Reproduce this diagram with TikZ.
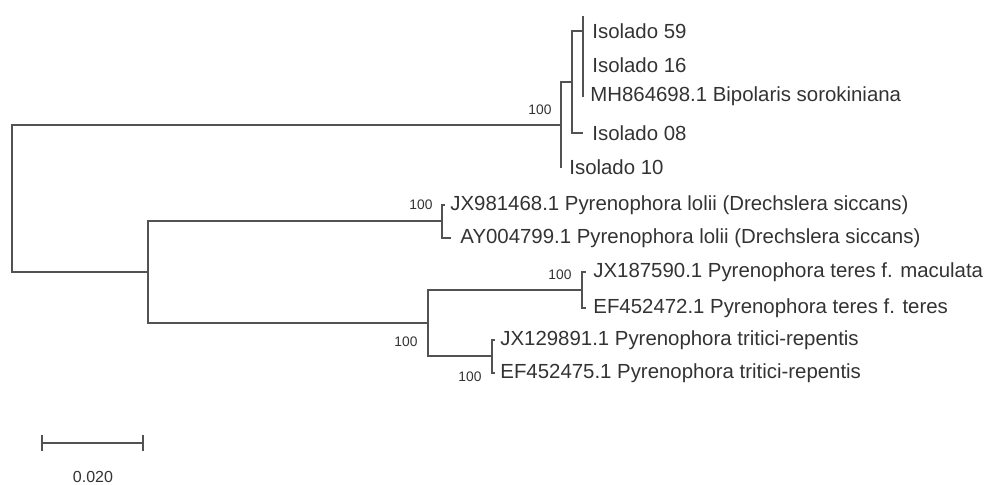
\documentclass[tikz,border=0pt]{standalone}
\usepackage{fontspec}
\setmainfont{Liberation Sans}
\usetikzlibrary{positioning}

\begin{document}
\begin{tikzpicture}[x=0.5pt, y=-0.5pt,
  br/.style={draw=black!68, line width=1pt, line cap=rect},
  leaf/.style={inner sep=0pt, text=black!80, font=\fontsize{10.2}{12}\selectfont},
  boot/.style={inner sep=0pt, text=black!80, font=\fontsize{6.9}{8}\selectfont}]
  \useasboundingbox (0,0) rectangle (992,485);
  % inner nodes
  \coordinate (root) at (12,198);
  \coordinate (nA) at (561,125);
  \coordinate (nB) at (572,82);
  \coordinate (nC) at (583,31);
  \coordinate (ctop) at (583,17);
  \coordinate (nD) at (148,272);
  \coordinate (nE) at (442,221);
  \coordinate (nF) at (428,323);
  \coordinate (nG) at (582,290);
  \coordinate (nH) at (492,356);
  % tips
  \coordinate (t59) at (583,31);
  \coordinate (t16) at (583,65);
  \coordinate (tmh) at (583,96);
  \coordinate (t08) at (582,133);
  \coordinate (t10) at (561,167);
  \coordinate (tjx98) at (444,205);
  \coordinate (tay) at (450,238);
  \coordinate (tjx18) at (585,272);
  \coordinate (tef72) at (585,308);
  \coordinate (tjx12) at (494,340);
  \coordinate (tef75) at (494,373);
  % branches
  \foreach \from/\to in {root/nA, root/nD, nA/nB, nA/t10, nB/nC, nB/t08,
                     nC/t59, nC/t16, nC/tmh, nD/nE, nD/nF, nE/tjx98, nE/tay,
                     nF/nG, nF/nH, nG/tjx18, nG/tef72, nH/tjx12, nH/tef75}
    \draw[br] (\from) |- (\to);
  \draw[br] (nC) -- (ctop);
  % leaf labels
  \node[leaf, right=4.5pt of t59] (l59) {Isolado 59};
  \node[leaf, right=4.5pt of t16] (l16) {Isolado 16};
  \node[leaf, right=3.5pt of tmh] (lmh) {MH864698.1 Bipolaris sorokiniana};
  \node[leaf, right=5pt of t08] (l08) {Isolado 08};
  \node[leaf, right=4pt of t10] (l10) {Isolado 10};
  \node[leaf, right=3pt of tjx98] (ljx98) {JX981468.1 Pyrenophora lolii (Drechslera siccans)};
  \node[leaf, right=5pt of tay] (lay) {AY004799.1 Pyrenophora lolii (Drechslera siccans)};
  \node[leaf, right=4pt of tjx18] (ljx18) {JX187590.1 Pyrenophora teres f. maculata};
  \node[leaf, right=4pt of tef72] (lef72) {EF452472.1 Pyrenophora teres f. teres};
  \node[leaf, right=3pt of tjx12] (ljx12) {JX129891.1 Pyrenophora tritici-repentis};
  \node[leaf, right=3pt of tef75] (lef75) {EF452475.1 Pyrenophora tritici-repentis};
  % bootstrap values
  \node[boot] (bA) at (540,110) {100};
  \node[boot] (bE) at (421,205) {100};
  \node[boot] (bG) at (560,275) {100};
  \node[boot] (bF) at (406,342) {100};
  \node[boot] (bH) at (470,377) {100};
  % scale bar
  \coordinate (sbl) at (41,443);
  \coordinate (sbr) at (144,443);
  \draw[br, line cap=butt, |-|] (sbl) -- (sbr);
  \node[boot, font=\fontsize{8}{9}\selectfont] (sblab) at (93,477) {0.020};
\end{tikzpicture}
\end{document}
